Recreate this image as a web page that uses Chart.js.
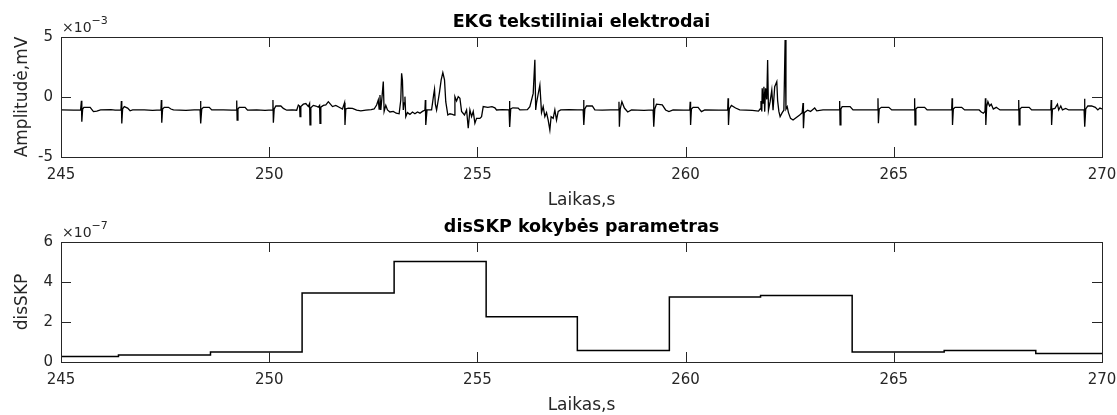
<!DOCTYPE html>
<html>
<head>
<meta charset="utf-8">
<script src="https://cdn.jsdelivr.net/npm/chart.js@4.4.1/dist/chart.umd.min.js"></script>
<style>
  html, body { margin: 0; padding: 0; background: #fff; overflow: hidden; width: 1117px; height: 415px; }
  canvas { position: absolute; left: 0; }
  #ekgChart { top: 0; }
  #skpChart { top: 205px; }
</style>
</head>
<body>
<canvas id="ekgChart" width="1117" height="215"></canvas>
<canvas id="skpChart" width="1117" height="215"></canvas>
<script>
// EKG signal, time in s, amplitude in units of 1e-3 mV
const ekgTime = [
  245.00, 245.30, 245.47, 245.49, 245.50, 245.52, 245.55, 245.70, 245.78, 245.86, 245.95,
  246.20, 246.30, 246.44, 246.45, 246.46, 246.48, 246.52, 246.60, 246.66, 246.72,
  247.00, 247.20, 247.40, 247.41, 247.42, 247.44, 247.48, 247.58, 247.64, 247.70,
  248.00, 248.20, 248.34, 248.35, 248.36, 248.38, 248.42, 248.56, 248.62, 248.90,
  249.10, 249.21, 249.22, 249.23, 249.25, 249.28, 249.42, 249.48, 249.70, 249.90,
  250.08, 250.09, 250.10, 250.12, 250.16, 250.28, 250.34, 250.42, 250.55, 250.66,
  250.70, 250.73, 250.74, 250.76, 250.82, 250.88, 250.94, 250.97, 250.98, 251.00,
  251.06, 251.12, 251.18, 251.21, 251.22, 251.24, 251.30, 251.36, 251.42, 251.46,
  251.52, 251.60, 251.68, 251.76, 251.81, 251.82, 251.84, 251.90, 252.00, 252.10,
  252.20, 252.32, 252.45, 252.52, 252.58, 252.62, 252.64, 252.66, 252.68, 252.71,
  252.74, 252.76, 252.80, 252.84, 252.90, 252.98, 253.05, 253.12, 253.16, 253.18,
  253.20, 253.22, 253.24, 253.26, 253.28, 253.32, 253.38, 253.44, 253.50, 253.56,
  253.62, 253.68, 253.74, 253.75, 253.76, 253.79, 253.90, 253.95, 253.97, 253.99,
  254.02, 254.06, 254.09, 254.13, 254.17, 254.21, 254.24, 254.29, 254.34, 254.40,
  254.44, 254.46, 254.50, 254.54, 254.58, 254.62, 254.69, 254.74, 254.78, 254.82,
  254.86, 254.90, 254.94, 254.98, 255.06, 255.10, 255.14, 255.25, 255.35, 255.42,
  255.46, 255.60, 255.76, 255.77, 255.78, 255.80, 255.85, 255.98, 256.02, 256.20,
  256.26, 256.34, 256.38, 256.40, 256.42, 256.50, 256.54, 256.58, 256.62, 256.66,
  256.70, 256.74, 256.77, 256.82, 256.86, 256.90, 256.94, 257.00, 257.20, 257.40,
  257.54, 257.55, 257.56, 257.58, 257.62, 257.76, 257.82, 258.00, 258.20, 258.39,
  258.40, 258.41, 258.43, 258.47, 258.53, 258.61, 258.70, 259.00, 259.22, 259.23,
  259.24, 259.26, 259.30, 259.44, 259.52, 259.60, 259.70, 259.95, 260.10, 260.11,
  260.12, 260.14, 260.18, 260.30, 260.38, 260.46, 260.80, 261.01, 261.02, 261.03,
  261.05, 261.10, 261.20, 261.30, 261.60, 261.75, 261.79, 261.81, 261.83, 261.84,
  261.86, 261.88, 261.90, 261.92, 261.95, 261.97, 261.99, 262.03, 262.07, 262.10,
  262.14, 262.19, 262.21, 262.24, 262.27, 262.32, 262.36, 262.39, 262.41, 262.44,
  262.47, 262.52, 262.58, 262.66, 262.74, 262.80, 262.82, 262.83, 262.85, 262.93,
  263.00, 263.10, 263.15, 263.30, 263.69, 263.70, 263.71, 263.73, 263.76, 263.95,
  264.02, 264.61, 264.62, 264.63, 264.65, 264.70, 264.88, 264.95, 265.49, 265.50,
  265.51, 265.53, 265.57, 265.74, 265.80, 266.39, 266.40, 266.41, 266.43, 266.47,
  266.63, 266.70, 267.05, 267.10, 267.15, 267.19, 267.20, 267.21, 267.23, 267.26,
  267.30, 267.34, 267.39, 267.46, 267.55, 267.99, 268.00, 268.01, 268.03, 268.07,
  268.25, 268.31, 268.77, 268.78, 268.79, 268.81, 268.87, 268.93, 268.96, 269.01,
  269.05, 269.13, 269.20, 269.57, 269.58, 269.59, 269.61, 269.66, 269.75, 269.84,
  269.90, 269.95, 270.00
];
const ekgValue = [
  -1.08, -1.10, -1.08, -0.31, -2.06, -1.00, -0.86, -0.86, -1.22, -1.18, -1.08,
  -1.06, -1.10, -1.08, -0.33, -2.20, -1.00, -0.80, -0.92, -1.15, -1.08,
  -1.08, -1.12, -1.08, -0.25, -2.15, -1.00, -0.86, -0.86, -1.00, -1.08,
  -1.12, -1.08, -1.08, -0.33, -2.20, -1.00, -0.86, -0.86, -1.08, -1.08,
  -1.10, -1.08, -0.30, -1.92, -1.00, -0.86, -0.86, -1.10, -1.08, -1.12,
  -1.08, -0.25, -2.14, -1.00, -0.75, -0.75, -0.95, -1.10, -1.08, -1.10,
  -0.67, -0.75, -1.64, -0.80, -0.60, -0.55, -0.80, -0.55, -2.33, -0.90,
  -0.70, -0.75, -0.85, -0.70, -2.20, -0.85, -0.70, -0.65, -0.39, -0.55,
  -0.80, -0.70, -0.85, -1.00, -0.47, -2.33, -1.00, -0.92, -0.95, -1.10,
  -1.15, -1.10, -1.05, -1.00, -0.67, -0.25, -1.00, 0.17, -1.08, 0.03,
  1.28, -1.20, -0.70, -1.08, -1.25, -1.20, -1.35, -1.40, -0.25, 1.97,
  1.40, -1.08, -0.50, 0.03, -1.64, -1.30, -1.45, -1.25, -1.40, -1.25,
  -1.35, -1.20, -1.10, -0.25, -2.33, -1.08, -1.08, 0.20, 0.64, -0.60,
  -1.08, -0.25, 0.40, 1.42, 2.03, 1.42, -0.39, -1.50, -1.40, -1.45,
  -1.50, 0.03, -0.33, 0.03, -0.10, -1.20, -1.50, -1.08, -2.60, -1.08,
  -1.64, -1.20, -2.19, -1.78, -1.78, -1.64, -0.80, -0.86, -0.80, -0.90,
  -1.08, -1.05, -1.08, -0.33, -2.50, -1.00, -0.90, -0.92, -1.08, -1.05,
  -0.80, 0.30, 3.10, -1.08, -0.50, 1.00, -1.30, -0.80, -1.64, -1.30,
  -1.92, -2.75, -1.64, -1.78, -1.08, -1.92, -1.20, -1.08, -1.05, -1.08,
  -1.08, -0.25, -2.33, -1.00, -0.75, -0.75, -1.08, -1.10, -1.08, -1.08,
  -0.39, -2.47, -1.00, -0.39, -0.92, -1.25, -1.08, -1.12, -1.08, -0.11,
  -2.47, -1.00, -0.60, -0.65, -1.08, -1.22, -1.08, -1.10, -1.08, -0.39,
  -2.33, -1.00, -0.86, -0.86, -1.22, -1.08, -1.10, -1.08, -0.11, -2.33,
  -1.00, -0.70, -0.92, -1.08, -1.12, -1.18, -1.00, -0.33, -1.20, 0.72,
  -0.50, 0.86, -1.22, 0.72, -0.20, 3.08, -1.10, -0.39, 0.58, -1.10,
  0.86, 1.28, -0.30, -1.20, -1.64, -1.30, -1.10, 4.75, -1.00, -0.80,
  -1.30, -1.78, -1.92, -1.70, -1.50, -1.30, -0.50, -2.60, -1.30, -1.10,
  -1.20, -0.92, -1.15, -1.08, -1.08, -0.33, -2.33, -1.00, -0.80, -0.80,
  -1.08, -1.08, -0.11, -2.19, -1.00, -0.86, -0.86, -1.08, -1.08, -0.11,
  -2.33, -1.00, -0.86, -0.86, -1.08, -1.08, -0.11, -2.33, -1.00, -0.86,
  -0.86, -1.08, -1.08, -1.25, -1.35, -1.20, -0.11, -2.33, -0.80, -0.39,
  -0.75, -0.60, -1.00, -0.86, -1.08, -1.08, -0.25, -2.33, -1.00, -0.86,
  -0.86, -1.08, -1.08, -0.25, -2.33, -1.00, -0.95, -0.60, -1.08, -0.75,
  -1.08, -0.95, -1.08, -1.08, -0.15, -2.47, -1.00, -0.75, -0.75, -0.86,
  -1.08, -0.92, -1.00
];

// disSKP quality parameter: step start times (s) and values in units of 1e-7
const skpStart = [245.00, 246.38, 248.59, 250.79, 253.00, 255.21, 257.40, 259.61, 261.80, 264.00, 266.21, 268.41, 270.00];
const skpValue = [0.28, 0.35, 0.50, 3.45, 5.03, 2.26, 0.58, 3.25, 3.32, 0.50, 0.58, 0.43, 0.43];

const timeTicks = [245, 250, 255, 260, 265, 270];
const ekgTicks = [-5, 0, 5];
const skpTicks = [0, 2, 4, 6];

const axisColor = '#262626';
const fontFamily = '"DejaVu Sans", sans-serif';

// box, inward tick marks, panel title and exponent label (MATLAB look)
const framePlugin = {
  id: 'frame',
  afterDraw(chart, args, opts) {
    const { ctx, chartArea: a, scales: { x, y } } = chart;
    const len = 10;
    ctx.save();
    ctx.strokeStyle = axisColor;
    ctx.lineWidth = 1;
    ctx.beginPath();
    x.ticks.forEach(t => {
      const px = Math.round(x.getPixelForValue(t.value)) + 0.5;
      ctx.moveTo(px, a.top); ctx.lineTo(px, a.top + len);
      ctx.moveTo(px, a.bottom); ctx.lineTo(px, a.bottom - len);
    });
    y.ticks.forEach(t => {
      const py = Math.round(y.getPixelForValue(t.value)) + 0.5;
      ctx.moveTo(a.left, py); ctx.lineTo(a.left + len, py);
      ctx.moveTo(a.right, py); ctx.lineTo(a.right - len, py);
    });
    ctx.stroke();
    ctx.strokeRect(Math.round(a.left) + 0.5, Math.round(a.top) + 0.5, Math.round(a.width), Math.round(a.height));

    ctx.fillStyle = '#000';
    ctx.font = 'bold 17.5px ' + fontFamily;
    ctx.textAlign = 'center';
    ctx.textBaseline = 'alphabetic';
    ctx.fillText(opts.title, (a.left + a.right) / 2, a.top - 10);

    ctx.fillStyle = axisColor;
    ctx.textAlign = 'left';
    ctx.font = '14px ' + fontFamily;
    ctx.fillText('\u00d710', a.left + 1, a.top - 5);
    const w = ctx.measureText('\u00d710').width;
    ctx.font = '11px ' + fontFamily;
    ctx.fillText(opts.exponent, a.left + 1 + w, a.top - 13);
    ctx.restore();
  }
};

function panelOptions(title, exponent, yLabel, yMin, yMax, yTicks) {
  return {
    responsive: false,
    animation: false,
    events: [],
    layout: { padding: { top: 37, right: 15, bottom: 0, left: 0 } },
    plugins: {
      legend: { display: false },
      tooltip: { enabled: false },
      frame: { title: title, exponent: exponent }
    },
    scales: {
      x: {
        type: 'linear',
        min: 245, max: 270,
        grid: { display: false, drawTicks: false, tickLength: 0 },
        border: { display: false },
        afterBuildTicks: s => { s.ticks = timeTicks.map(v => ({ value: v })); },
        afterFit: s => { s.height = 58; s.paddingLeft = 0; s.paddingRight = 0; },
        ticks: { color: axisColor, padding: 9, font: { family: fontFamily, size: 15 } },
        title: {
          display: true, text: 'Laikas,s', color: axisColor,
          font: { family: fontFamily, size: 17 }, padding: { top: 0, bottom: 4 }
        }
      },
      y: {
        min: yMin, max: yMax,
        grid: { display: false, drawTicks: false, tickLength: 0 },
        border: { display: false },
        afterBuildTicks: s => { s.ticks = yTicks.map(v => ({ value: v })); },
        afterFit: s => { s.width = 61; s.paddingTop = 0; s.paddingBottom = 0; },
        ticks: { color: axisColor, padding: 8, font: { family: fontFamily, size: 15 } },
        title: {
          display: true, text: yLabel, color: axisColor,
          font: { family: fontFamily, size: 17 }, padding: { top: 12, bottom: 0 }
        }
      }
    }
  };
}

new Chart(document.getElementById('ekgChart'), {
  type: 'line',
  data: {
    datasets: [{
      data: ekgTime.map((t, i) => ({ x: t, y: ekgValue[i] })),
      borderColor: '#000',
      borderWidth: 1.3,
      pointRadius: 0,
      tension: 0
    }]
  },
  options: panelOptions('EKG tekstiliniai elektrodai', '\u22123', 'Amplitudė,mV', -5, 5, ekgTicks),
  plugins: [framePlugin]
});

new Chart(document.getElementById('skpChart'), {
  type: 'line',
  data: {
    datasets: [{
      data: skpStart.map((t, i) => ({ x: t, y: skpValue[i] })),
      borderColor: '#000',
      borderWidth: 1.5,
      pointRadius: 0,
      stepped: 'before'
    }]
  },
  options: panelOptions('disSKP kokybės parametras', '\u22127', 'disSKP', 0, 6, skpTicks),
  plugins: [framePlugin]
});
</script>
</body>
</html>
